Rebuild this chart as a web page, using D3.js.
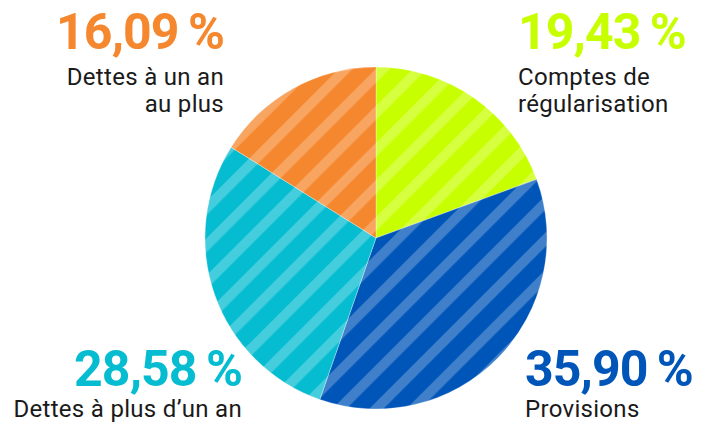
<!DOCTYPE html>
<html>
<head>
<meta charset="utf-8">
<script src="https://cdn.jsdelivr.net/npm/d3@7"></script>
<style>
  html, body { margin: 0; padding: 0; background: #fff; }
  svg { display: block; }
</style>
</head>
<body>
<svg id="chart" width="703" height="424"></svg>
<script>
// Répartition du passif (en %)
const categories = ["Comptes de régularisation", "Provisions", "Dettes à plus d’un an", "Dettes à un an au plus"];
const values = [19.43, 35.90, 28.58, 16.09];
const valueLabels = ["19,43 %", "35,90 %", "28,58 %", "16,09 %"];
const labelLines = [["Comptes de", "régularisation"], ["Provisions"], ["Dettes à plus d’un an"], ["Dettes à un an", "au plus"]];
const colors = ["#c8ff00", "#0055b8", "#06bcd0", "#f5872e"];

const svg = d3.select("#chart");
const cx = 376, cy = 238, R = 171;

// Diagonal striped fill, one pattern per slice colour
const period = 26.2, stripe = 10;
const defs = svg.append("defs");
colors.forEach((c, i) => {
  const p = defs.append("pattern")
    .attr("id", "stripe" + i)
    .attr("patternUnits", "userSpaceOnUse")
    .attr("width", period).attr("height", period)
    .attr("patternTransform", `translate(${-cx},${-cy}) rotate(45)`);
  p.append("rect").attr("width", period).attr("height", period).attr("fill", c);
  p.append("rect").attr("x", 0).attr("width", stripe).attr("height", period)
    .attr("fill", "#fff").attr("fill-opacity", 0.25);
});

const pie = d3.pie().sort(null).value(d => d)(values);
const arc = d3.arc().innerRadius(0).outerRadius(R);

svg.append("g")
  .attr("transform", `translate(${cx},${cy})`)
  .selectAll("path")
  .data(pie)
  .join("path")
  .attr("d", arc)
  .attr("fill", (d, i) => `url(#stripe${i})`)
  .attr("stroke", "#fff")
  .attr("stroke-opacity", 0.5)
  .attr("stroke-width", 0.6);

// Label blocks: anchor, alignment and gap to the first text line
const labelPos = [
  { x: 518, y: 49, anchor: "start", gap: 36 },
  { x: 525, y: 386, anchor: "start", gap: 31 },
  { x: 242, y: 386, anchor: "end", gap: 31 },
  { x: 224, y: 49, anchor: "end", gap: 36 }
];

const labels = svg.append("g");
values.forEach((v, i) => {
  const pos = labelPos[i];
  labels.append("text")
    .attr("x", pos.x).attr("y", pos.y)
    .attr("text-anchor", pos.anchor)
    .attr("font-family", "Roboto, sans-serif")
    .attr("font-weight", 700)
    .attr("font-size", 50)
    .attr("letter-spacing", -0.9)
    .attr("fill", colors[i])
    .text(valueLabels[i].replace(" ", "\u2009"));
  labelLines[i].forEach((line, j) => {
    labels.append("text")
      .attr("x", pos.x).attr("y", pos.y + pos.gap + j * 27)
      .attr("text-anchor", pos.anchor)
      .attr("font-family", "Roboto, sans-serif")
      .attr("font-size", 24)
      .attr("letter-spacing", 0.3)
      .attr("fill", "#1a1a1a")
      .text(line);
  });
});
</script>
</body>
</html>
